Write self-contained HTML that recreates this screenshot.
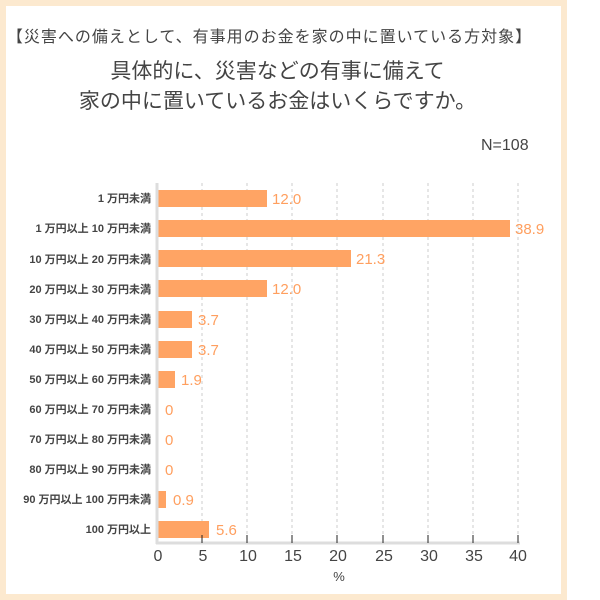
<!DOCTYPE html>
<html><head><meta charset="utf-8"><style>
body{margin:0;width:600px;height:600px;background:#fff;position:relative;font-family:"Liberation Sans","Noto Sans CJK JP",sans-serif;overflow:hidden}
#frame{position:absolute;left:0;top:0;width:555px;height:588px;border:6px solid #fce9cf;background:#fff}
.t{position:absolute;left:0;width:567px;text-align:center;color:#444;white-space:nowrap}
</style></head><body>
<div id="frame"></div>
<div class="t" style="top:23px;font-size:16px;letter-spacing:1px;left:-14px">【災害への備えとして、有事用のお金を家の中に置いている方対象】</div>
<div class="t" style="top:55px;font-size:21px;left:-6px">具体的に、災害などの有事に備えて</div>
<div class="t" style="top:85px;font-size:21px;left:-6px">家の中に置いているお金はいくらですか。</div>
<div style="position:absolute;top:137px;left:481px;font-size:16px;color:#444">N=108</div>
<svg width="600" height="600" style="position:absolute;left:0;top:0" font-family="Liberation Sans, Noto Sans CJK JP, sans-serif">
<g stroke="#ccc" stroke-dasharray="3,3" stroke-width="1">
<line x1="202" y1="183" x2="202" y2="542"/><line x1="247" y1="183" x2="247" y2="542"/><line x1="292" y1="183" x2="292" y2="542"/><line x1="337" y1="183" x2="337" y2="542"/><line x1="383" y1="183" x2="383" y2="542"/><line x1="428" y1="183" x2="428" y2="542"/><line x1="473" y1="183" x2="473" y2="542"/><line x1="518" y1="183" x2="518" y2="542"/>
</g>
<g fill="#ffa464">
<rect x="158" y="190" width="109" height="17"/>
<rect x="158" y="220" width="352" height="17"/>
<rect x="158" y="250" width="193" height="17"/>
<rect x="158" y="280" width="109" height="17"/>
<rect x="158" y="311" width="34" height="17"/>
<rect x="158" y="341" width="34" height="17"/>
<rect x="158" y="371" width="17" height="17"/>
<rect x="158" y="491" width="8" height="17"/>
<rect x="158" y="521" width="51" height="17"/>
</g>
<g fill="#ff9f5f" font-size="15">
<text x="272" y="204">12.0</text><text x="515" y="234">38.9</text><text x="356" y="264">21.3</text><text x="272" y="294">12.0</text><text x="198" y="325">3.7</text><text x="198" y="355">3.7</text><text x="181" y="385">1.9</text><text x="165" y="415">0</text><text x="165" y="445">0</text><text x="165" y="475">0</text><text x="173" y="505">0.9</text><text x="216" y="535">5.6</text>
</g>
<g fill="#444" font-size="11" text-anchor="end" font-weight="bold">
<text x="151" y="202">1 万円未満</text><text x="151" y="232">1 万円以上 10 万円未満</text><text x="151" y="263">10 万円以上 20 万円未満</text><text x="151" y="293">20 万円以上 30 万円未満</text><text x="151" y="323">30 万円以上 40 万円未満</text><text x="151" y="353">40 万円以上 50 万円未満</text><text x="151" y="383">50 万円以上 60 万円未満</text><text x="151" y="413">60 万円以上 70 万円未満</text><text x="151" y="443">70 万円以上 80 万円未満</text><text x="151" y="473">80 万円以上 90 万円未満</text><text x="151" y="503">90 万円以上 100 万円未満</text><text x="151" y="533">100 万円以上</text>
</g>
<line x1="157" y1="183" x2="157" y2="544" stroke="#ddd" stroke-width="3"/>
<line x1="156" y1="543" x2="520" y2="543" stroke="#ddd" stroke-width="3"/>
<g stroke="#222" stroke-width="1">
<line x1="202" y1="535" x2="202" y2="543"/><line x1="247" y1="535" x2="247" y2="543"/><line x1="292" y1="535" x2="292" y2="543"/><line x1="337" y1="535" x2="337" y2="543"/><line x1="383" y1="535" x2="383" y2="543"/><line x1="428" y1="535" x2="428" y2="543"/><line x1="473" y1="535" x2="473" y2="543"/><line x1="518" y1="535" x2="518" y2="543"/>
</g>
<g fill="#444" font-size="16" text-anchor="middle">
<text x="158" y="561">0</text><text x="203" y="561">5</text><text x="248" y="561">10</text><text x="293" y="561">15</text><text x="338" y="561">20</text><text x="384" y="561">25</text><text x="429" y="561">30</text><text x="474" y="561">35</text><text x="518" y="561">40</text>
<text x="339" y="581" font-size="13">%</text>
</g>
</svg>
</body></html>
